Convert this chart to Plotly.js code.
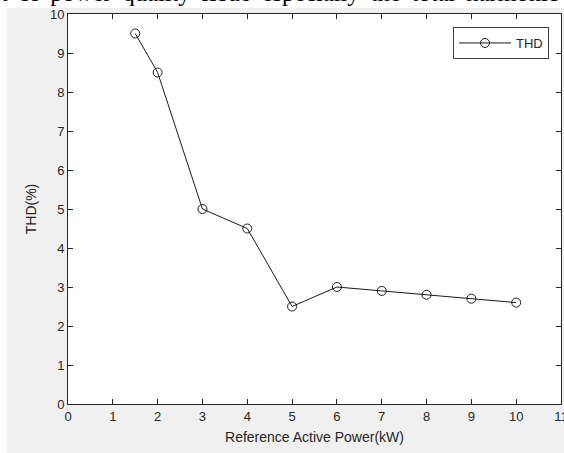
<!DOCTYPE html>
<html>
<head>
<meta charset="utf-8">
<script src="https://cdn.plot.ly/plotly-3.0.1.min.js"></script>
<style>html,body{margin:0;padding:0;background:#fff;}#chart{width:564px;height:453px;}</style>
</head>
<body>
<div id="chart"></div>
<script>
// Data
const powerKW = [1.5, 2, 3, 4, 5, 6, 7, 8, 9, 10];
const thdPercent = [9.5, 8.5, 5.0, 4.5, 2.5, 3.0, 2.9, 2.8, 2.7, 2.6];
const xTicks = [0, 1, 2, 3, 4, 5, 6, 7, 8, 9, 10, 11];
const yTicks = [0, 1, 2, 3, 4, 5, 6, 7, 8, 9, 10];
const seriesName = 'THD';
const xTitle = 'Reference Active Power(kW)';
const yTitle = 'THD(%)';
const docWords = ['t', 'of', 'power', 'quality', 'issue', 'especially', 'the', 'total', 'harmonic'];

const W = 564, H = 453;
const M = {l: 68, r: 3, t: 14, b: 49};
const pw = W - M.l - M.r, ph = H - M.t - M.b;
const px = p => (p - M.l) / pw;        // pixel x -> paper x
const py = p => 1 - (p - M.t) / ph;    // pixel y -> paper y

const FONT = 'Liberation Sans, Arial, sans-serif';
const axisCommon = {
  showgrid: false, zeroline: false, showline: true, linecolor: '#262626', linewidth: 1,
  mirror: 'ticks', ticks: 'inside', ticklen: 5, tickwidth: 1, tickcolor: '#262626',
  tickfont: {family: FONT, size: 13, color: '#262626'},
  ticklabeloverflow: 'allow',
  fixedrange: true
};

const trace = {
  x: powerKW, y: thdPercent, name: seriesName, type: 'scatter', mode: 'lines+markers',
  line: {color: '#1a1a1a', width: 1},
  marker: {symbol: 'circle-open', size: 9, color: '#1a1a1a', line: {width: 1, color: '#1a1a1a'}}
};

const layout = {
  width: W, height: H,
  margin: M,
  paper_bgcolor: '#f0f0f0',
  plot_bgcolor: '#ffffff',
  showlegend: true,
  legend: {
    x: px(453), y: py(27), xanchor: 'left', yanchor: 'top',
    bgcolor: '#ffffff', bordercolor: '#404040', borderwidth: 1,
    itemwidth: 52, tracegroupgap: 0,
    font: {family: FONT, size: 13, color: '#262626'}
  },
  xaxis: Object.assign({}, axisCommon, {
    range: [0, 11], tickvals: xTicks, ticktext: xTicks.map(String),
    title: {text: xTitle, standoff: 9, font: {family: FONT, size: 14, color: '#262626'}}
  }),
  yaxis: Object.assign({}, axisCommon, {
    range: [0, 10], tickvals: yTicks, ticktext: yTicks.map(String),
    title: {text: yTitle, standoff: 10, font: {family: FONT, size: 14, color: '#262626'}}
  }),
  shapes: [
    {type: 'rect', xref: 'paper', yref: 'paper', x0: px(-10), x1: px(W + 10), y0: py(8), y1: py(-10),
     fillcolor: '#ffffff', line: {width: 0}, layer: 'below'},
    {type: 'rect', xref: 'paper', yref: 'paper', x0: px(-10), x1: px(7), y0: py(H + 10), y1: py(-10),
     fillcolor: '#ffffff', line: {width: 0}, layer: 'below'}
  ],
  annotations: [
    {text: docWords.join(' \u2009'), xref: 'paper', yref: 'paper', x: px(-1), y: py(8), xanchor: 'left', yanchor: 'bottom',
     showarrow: false, font: {family: 'Liberation Serif, Times New Roman, serif', size: 24.5, color: '#000000'}}
  ]
};

Plotly.newPlot('chart', [trace], layout, {staticPlot: true, displayModeBar: false});
</script>
</body>
</html>
